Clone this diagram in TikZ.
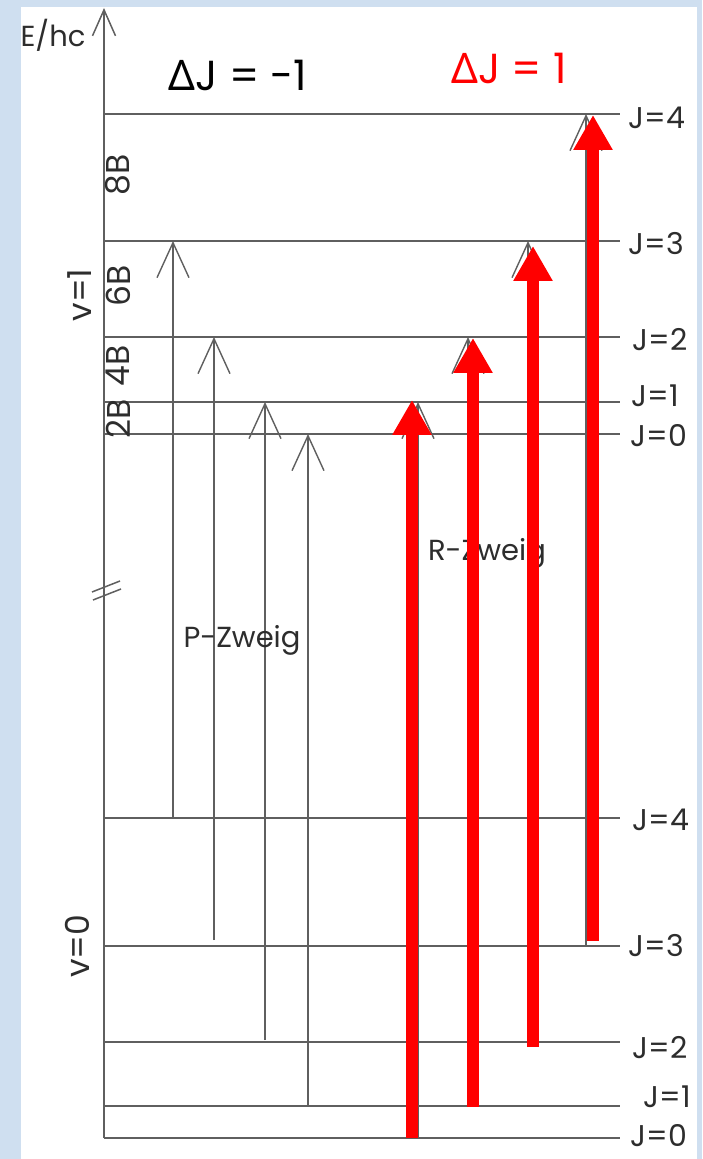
\documentclass[tikz,border=0pt]{standalone}
\usepackage{fontspec}
\setmainfont{Poppins}
\newfontfamily\grk{Noto Sans}
\usetikzlibrary{arrows.meta}
\definecolor{skyframe}{RGB}{207,223,240}
\definecolor{greyline}{RGB}{95,95,95}
\definecolor{labtext}{RGB}{45,45,45}
\definecolor{hot}{RGB}{255,0,0}
\tikzset{
  level/.style={draw=greyline,line width=0.75pt},
  trans/.style={draw=greyline,line width=0.7pt,
    -{Straight Barb[length=17.5pt,width=16pt,line width=0.7pt]}},
  redtrans/.style={draw=hot,line width=6pt,-{Triangle[length=17.5pt,width=18.5pt]}},
  jlab/.style={anchor=west,text=labtext,inner sep=0pt,font=\fontsize{15}{17}\selectfont},
  blab/.style={rotate=90,text=labtext,inner sep=0pt,font=\fontsize{16.5}{18}\selectfont},
  zlab/.style={text=labtext,inner sep=0pt,font=\fontsize{14.5}{17}\selectfont},
  head/.style={inner sep=0pt,font=\fontsize{21}{24}\selectfont},
}

\begin{document}
\begin{tikzpicture}[x=0.5pt,y=-0.5pt]
  \useasboundingbox (0,0) rectangle (702,1159);
  \fill[skyframe] (0,0) rectangle (702,1159);
  \fill[white] (21,7) rectangle (697,1159);

  % energy axis
  \coordinate (axb) at (104,1138);
  \coordinate (axt) at (104,8);
  \draw[level,-{Straight Barb[length=13pt,width=11.5pt,line width=0.75pt]}] (axb) -- (axt);
  \node[zlab] (ehc) at (53,35) {E/hc};
  \draw[level] (92,592) -- (120,581) (93,600) -- (121,589);

  % rotational levels, v=1 and v=0
  \foreach \y/\ly/\lx/\j in {114/118/628/4,241/244/628/3,337/340/632/2,402/396/631/1,434/436/630/0}{
    \draw[level] (104,\y) -- (620,\y);
    \node[jlab] (u\j) at (\lx,\ly) {J=\j};
  }
  \foreach \y/\ly/\lx/\j in {818/820/632/4,946/946/628/3,1042/1048/632/2,1106/1097/643/1,1138/1136/630/0}{
    \draw[level] (104,\y) -- (620,\y);
    \node[jlab] (l\j) at (\lx,\ly) {J=\j};
  }

  \node[blab] (b8) at (118,175) {8B};
  \node[blab] (b6) at (118,286) {6B};
  \node[blab] (b4) at (118,366) {4B};
  \node[blab] (b2) at (118,419) {2B};
  \node[blab] (v1) at (80,295) {v=1};
  \node[blab] (v0) at (77,946) {v=0};

  % P branch
  \coordinate (p4s) at (173,818); \coordinate (p4e) at (173,241);
  \coordinate (p3s) at (214,940); \coordinate (p3e) at (214,337);
  \coordinate (p2s) at (265,1040); \coordinate (p2e) at (265,402);
  \coordinate (p1s) at (308,1106); \coordinate (p1e) at (308,434);
  \foreach \k in {4,3,2,1} \draw[trans] (p\k s) -- (p\k e);
  \node[zlab] (pz) at (242,640) {P-Zweig};

  % R branch
  \node[zlab] (rz) at (487,553) {R-Zweig};
  \coordinate (r0s) at (418,1138); \coordinate (r0e) at (418,402);
  \coordinate (r1s) at (468,1106); \coordinate (r1e) at (468,337);
  \coordinate (r2s) at (528,1042); \coordinate (r2e) at (528,241);
  \coordinate (r3s) at (586,946);  \coordinate (r3e) at (586,114);
  \foreach \k in {0,1,2,3} \draw[trans] (r\k s) -- (r\k e);
  \coordinate (h0s) at (412,1138); \coordinate (h0e) at (412,400);
  \coordinate (h1s) at (473,1107); \coordinate (h1e) at (473,338);
  \coordinate (h2s) at (533,1047); \coordinate (h2e) at (533,246);
  \coordinate (h3s) at (593,941);  \coordinate (h3e) at (593,115);
  \foreach \k in {0,1,2,3} \draw[redtrans] (h\k s) -- (h\k e);

  \node[head] (dm) at (238,75) {{\grk Δ}J = -1};
  \node[head,text=hot] (dp) at (509,68) {{\grk Δ}J = 1};
\end{tikzpicture}
\end{document}
